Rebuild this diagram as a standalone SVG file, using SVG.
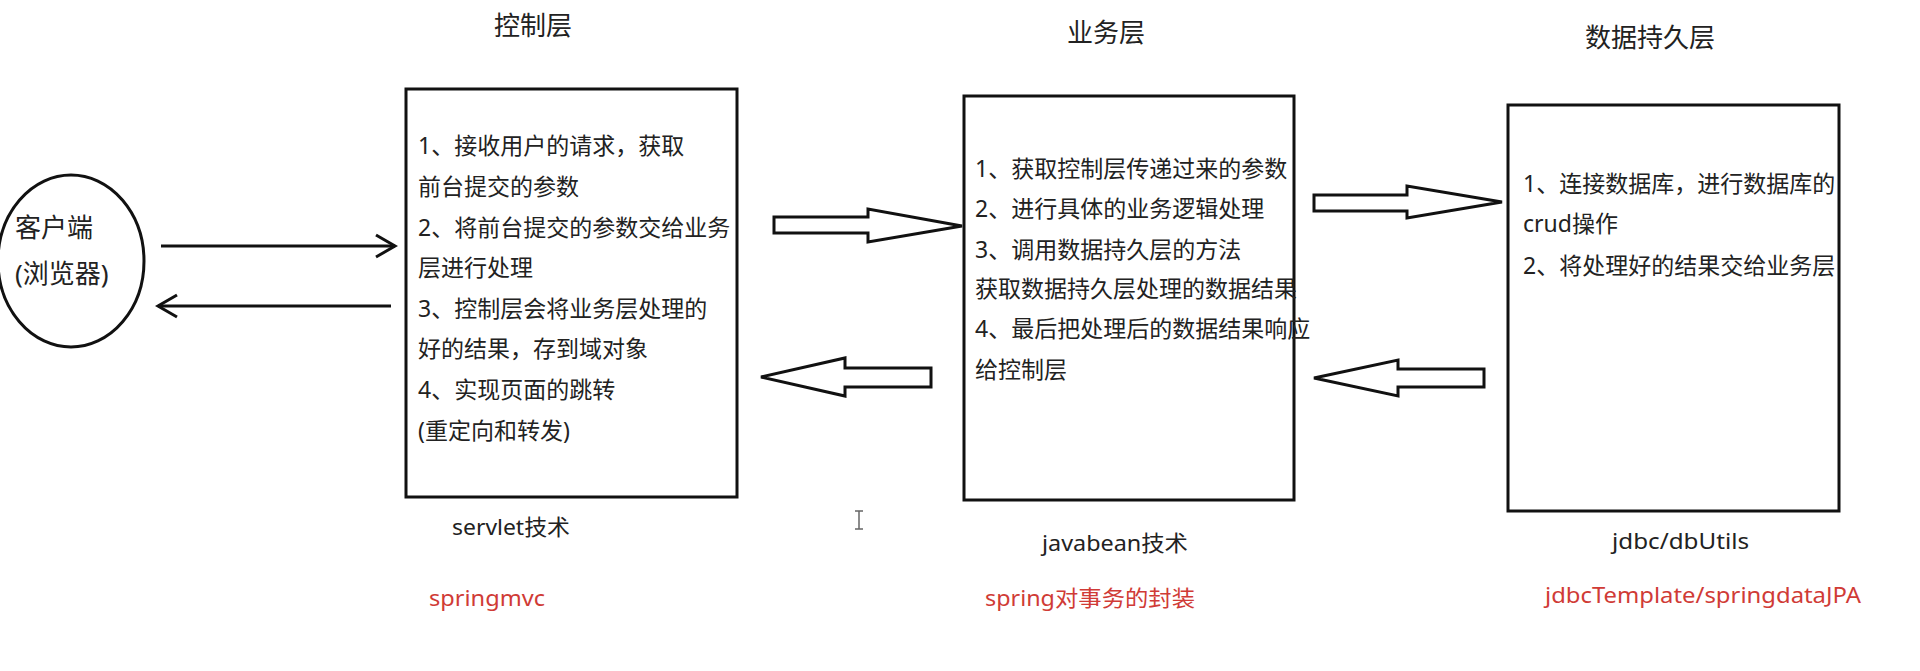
<svg xmlns="http://www.w3.org/2000/svg" width="1920" height="671" viewBox="0 0 1920 671">
<style>
  .t { font-family: "Noto Sans", "Noto Sans CJK SC", sans-serif; fill: #222; }
  .title { font-size: 26px; }
  .body { font-size: 23px; }
  .lbl { font-size: 22px; }
  .red { fill: #d03b36; }
  .box { fill: #fff; stroke: #111; stroke-width: 3; }
  .line { fill: none; stroke: #111; stroke-width: 3; }
  .hollow { fill: #fff; stroke: #111; stroke-width: 3; stroke-linejoin: miter; }
</style>
<defs>
  <marker id="chev" markerWidth="24" markerHeight="30" refX="20" refY="12" orient="auto" markerUnits="userSpaceOnUse" viewBox="0 0 24 24">
    <path d="M1,1 L20,12 L1,23" fill="none" stroke="#111" stroke-width="3"/>
  </marker>
</defs>
<rect width="1920" height="671" fill="#fff"/>

<g id="client">
  <ellipse cx="71" cy="261" rx="73" ry="86" fill="none" stroke="#111" stroke-width="3"/>
  <text class="t title" x="15" y="237">客户端</text>
  <text class="t title" x="15" y="283">(浏览器)</text>
</g>

<g id="control">
  <text class="t title" x="494" y="35">控制层</text>
  <rect class="box" x="406" y="89" width="331" height="408"/>
  <text class="t body" x="418" y="154">1、接收用户的请求，获取</text>
  <text class="t body" x="418" y="195">前台提交的参数</text>
  <text class="t body" x="418" y="236">2、将前台提交的参数交给业务</text>
  <text class="t body" x="418" y="276">层进行处理</text>
  <text class="t body" x="418" y="317">3、控制层会将业务层处理的</text>
  <text class="t body" x="418" y="357">好的结果，存到域对象</text>
  <text class="t body" x="418" y="398">4、实现页面的跳转</text>
  <text class="t body" x="418" y="439">(重定向和转发)</text>
  <text class="t lbl" x="452" y="535" textLength="118" lengthAdjust="spacingAndGlyphs">servlet技术</text>
  <text class="t lbl red" x="429" y="606" textLength="116" lengthAdjust="spacingAndGlyphs">springmvc</text>
</g>

<g id="business">
  <text class="t title" x="1067" y="42">业务层</text>
  <rect class="box" x="964" y="96" width="330" height="404"/>
  <text class="t body" x="975" y="177">1、获取控制层传递过来的参数</text>
  <text class="t body" x="975" y="217">2、进行具体的业务逻辑处理</text>
  <text class="t body" x="975" y="258">3、调用数据持久层的方法</text>
  <text class="t body" x="975" y="297">获取数据持久层处理的数据结果</text>
  <text class="t body" x="975" y="337">4、最后把处理后的数据结果响应</text>
  <text class="t body" x="975" y="378">给控制层</text>
  <text class="t lbl" x="1042" y="551" textLength="146" lengthAdjust="spacingAndGlyphs">javabean技术</text>
  <text class="t lbl red" x="985" y="606" textLength="210" lengthAdjust="spacingAndGlyphs">spring对事务的封装</text>
</g>

<g id="persistence">
  <text class="t title" x="1585" y="47">数据持久层</text>
  <rect class="box" x="1508" y="105" width="331" height="406"/>
  <text class="t body" x="1523" y="192">1、连接数据库，进行数据库的</text>
  <text class="t body" x="1523" y="232">crud操作</text>
  <text class="t body" x="1523" y="274">2、将处理好的结果交给业务层</text>
  <text class="t lbl" x="1612" y="549" textLength="137" lengthAdjust="spacingAndGlyphs">jdbc/dbUtils</text>
  <text class="t lbl red" x="1545" y="603" textLength="316" lengthAdjust="spacingAndGlyphs">jdbcTemplate/springdataJPA</text>
</g>

<g id="connectors">
  <line class="line" x1="161" y1="246" x2="395" y2="246" marker-end="url(#chev)"/>
  <line class="line" x1="391" y1="306" x2="158" y2="306" marker-end="url(#chev)"/>
  <polygon class="hollow" points="774,217 868,217 868,209 962,226 868,242 868,233 774,233"/>
  <polygon class="hollow" points="761,377 845,358 845,368 931,368 931,387 845,387 845,396"/>
  <polygon class="hollow" points="1314,195 1407,195 1407,186 1502,202 1407,218 1407,211 1314,211"/>
  <polygon class="hollow" points="1314,378 1398,360 1398,369 1484,369 1484,387 1398,387 1398,396"/>
</g>

<g id="cursor" stroke="#666" stroke-width="1.5" fill="none">
  <path d="M859,511 L859,529 M855,511 L863,511 M855,529 L863,529"/>
</g>
</svg>
